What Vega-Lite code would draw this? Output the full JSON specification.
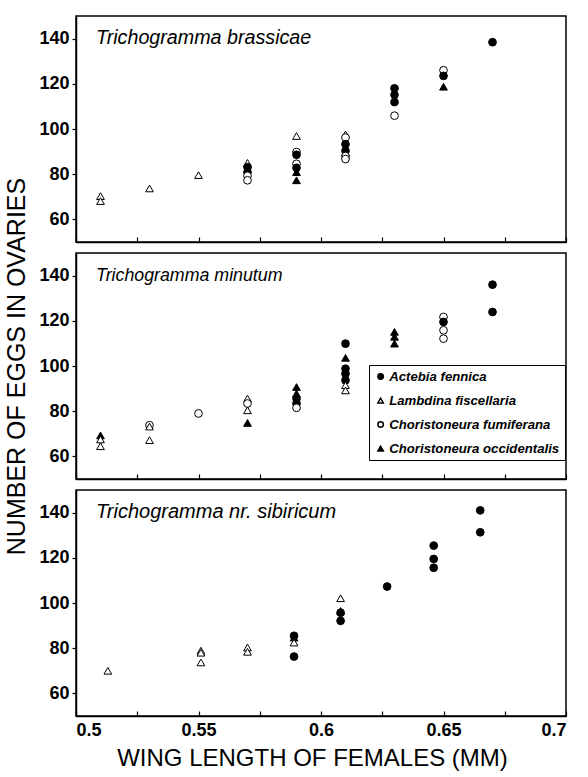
{
  "$schema": "https://vega.github.io/schema/vega-lite/v6.json",
  "padding": {"top": 15, "left": 4, "right": 5, "bottom": 5},
  "autosize": {"type": "pad"},
  "bounds": "flush",
  "spacing": 11,
  "datasets": {
    "eggs": [
      {"panel": "brassicae", "host": "Lambdina fiscellaria", "wing": 0.51, "eggs": 70.3},
      {"panel": "brassicae", "host": "Lambdina fiscellaria", "wing": 0.51, "eggs": 68.1},
      {"panel": "brassicae", "host": "Lambdina fiscellaria", "wing": 0.53, "eggs": 73.7},
      {"panel": "brassicae", "host": "Lambdina fiscellaria", "wing": 0.55, "eggs": 79.6},
      {"panel": "brassicae", "host": "Lambdina fiscellaria", "wing": 0.57, "eggs": 85.0},
      {"panel": "brassicae", "host": "Actebia fennica", "wing": 0.57, "eggs": 83.1},
      {"panel": "brassicae", "host": "Actebia fennica", "wing": 0.57, "eggs": 80.9},
      {"panel": "brassicae", "host": "Choristoneura fumiferana", "wing": 0.57, "eggs": 79.3},
      {"panel": "brassicae", "host": "Choristoneura fumiferana", "wing": 0.57, "eggs": 77.3},
      {"panel": "brassicae", "host": "Lambdina fiscellaria", "wing": 0.59, "eggs": 96.9},
      {"panel": "brassicae", "host": "Choristoneura fumiferana", "wing": 0.59, "eggs": 89.8},
      {"panel": "brassicae", "host": "Actebia fennica", "wing": 0.59, "eggs": 88.6},
      {"panel": "brassicae", "host": "Choristoneura fumiferana", "wing": 0.59, "eggs": 84.6},
      {"panel": "brassicae", "host": "Actebia fennica", "wing": 0.59, "eggs": 82.8},
      {"panel": "brassicae", "host": "Choristoneura occidentalis", "wing": 0.59, "eggs": 80.9},
      {"panel": "brassicae", "host": "Choristoneura occidentalis", "wing": 0.59, "eggs": 77.3},
      {"panel": "brassicae", "host": "Lambdina fiscellaria", "wing": 0.61, "eggs": 97.6},
      {"panel": "brassicae", "host": "Choristoneura fumiferana", "wing": 0.61, "eggs": 96.2},
      {"panel": "brassicae", "host": "Actebia fennica", "wing": 0.61, "eggs": 93.3},
      {"panel": "brassicae", "host": "Actebia fennica", "wing": 0.61, "eggs": 90.4},
      {"panel": "brassicae", "host": "Choristoneura occidentalis", "wing": 0.61, "eggs": 89.7},
      {"panel": "brassicae", "host": "Choristoneura fumiferana", "wing": 0.61, "eggs": 88.0},
      {"panel": "brassicae", "host": "Choristoneura fumiferana", "wing": 0.61, "eggs": 86.7},
      {"panel": "brassicae", "host": "Actebia fennica", "wing": 0.63, "eggs": 118.0},
      {"panel": "brassicae", "host": "Actebia fennica", "wing": 0.63, "eggs": 115.1},
      {"panel": "brassicae", "host": "Actebia fennica", "wing": 0.63, "eggs": 111.9},
      {"panel": "brassicae", "host": "Choristoneura fumiferana", "wing": 0.63, "eggs": 105.9},
      {"panel": "brassicae", "host": "Choristoneura fumiferana", "wing": 0.65, "eggs": 126.0},
      {"panel": "brassicae", "host": "Actebia fennica", "wing": 0.65, "eggs": 123.5},
      {"panel": "brassicae", "host": "Choristoneura occidentalis", "wing": 0.65, "eggs": 118.7},
      {"panel": "brassicae", "host": "Actebia fennica", "wing": 0.67, "eggs": 138.4},

      {"panel": "minutum", "host": "Choristoneura occidentalis", "wing": 0.51, "eggs": 69.3},
      {"panel": "minutum", "host": "Lambdina fiscellaria", "wing": 0.51, "eggs": 67.5},
      {"panel": "minutum", "host": "Lambdina fiscellaria", "wing": 0.51, "eggs": 64.5},
      {"panel": "minutum", "host": "Choristoneura fumiferana", "wing": 0.53, "eggs": 73.8},
      {"panel": "minutum", "host": "Lambdina fiscellaria", "wing": 0.53, "eggs": 73.2},
      {"panel": "minutum", "host": "Lambdina fiscellaria", "wing": 0.53, "eggs": 67.2},
      {"panel": "minutum", "host": "Choristoneura fumiferana", "wing": 0.55, "eggs": 79.0},
      {"panel": "minutum", "host": "Lambdina fiscellaria", "wing": 0.57, "eggs": 85.6},
      {"panel": "minutum", "host": "Choristoneura fumiferana", "wing": 0.57, "eggs": 83.4},
      {"panel": "minutum", "host": "Lambdina fiscellaria", "wing": 0.57, "eggs": 80.4},
      {"panel": "minutum", "host": "Choristoneura occidentalis", "wing": 0.57, "eggs": 74.8},
      {"panel": "minutum", "host": "Choristoneura occidentalis", "wing": 0.59, "eggs": 90.7},
      {"panel": "minutum", "host": "Choristoneura occidentalis", "wing": 0.59, "eggs": 87.8},
      {"panel": "minutum", "host": "Actebia fennica", "wing": 0.59, "eggs": 85.6},
      {"panel": "minutum", "host": "Actebia fennica", "wing": 0.59, "eggs": 83.4},
      {"panel": "minutum", "host": "Choristoneura fumiferana", "wing": 0.59, "eggs": 81.5},
      {"panel": "minutum", "host": "Actebia fennica", "wing": 0.61, "eggs": 109.9},
      {"panel": "minutum", "host": "Choristoneura occidentalis", "wing": 0.61, "eggs": 103.6},
      {"panel": "minutum", "host": "Actebia fennica", "wing": 0.61, "eggs": 98.8},
      {"panel": "minutum", "host": "Actebia fennica", "wing": 0.61, "eggs": 96.6},
      {"panel": "minutum", "host": "Actebia fennica", "wing": 0.61, "eggs": 93.7},
      {"panel": "minutum", "host": "Lambdina fiscellaria", "wing": 0.61, "eggs": 91.5},
      {"panel": "minutum", "host": "Lambdina fiscellaria", "wing": 0.61, "eggs": 89.2},
      {"panel": "minutum", "host": "Choristoneura occidentalis", "wing": 0.63, "eggs": 115.1},
      {"panel": "minutum", "host": "Choristoneura occidentalis", "wing": 0.63, "eggs": 112.9},
      {"panel": "minutum", "host": "Choristoneura occidentalis", "wing": 0.63, "eggs": 109.9},
      {"panel": "minutum", "host": "Choristoneura fumiferana", "wing": 0.65, "eggs": 121.7},
      {"panel": "minutum", "host": "Actebia fennica", "wing": 0.65, "eggs": 119.5},
      {"panel": "minutum", "host": "Choristoneura fumiferana", "wing": 0.65, "eggs": 115.8},
      {"panel": "minutum", "host": "Choristoneura fumiferana", "wing": 0.65, "eggs": 112.1},
      {"panel": "minutum", "host": "Actebia fennica", "wing": 0.67, "eggs": 136.0},
      {"panel": "minutum", "host": "Actebia fennica", "wing": 0.67, "eggs": 123.9},

      {"panel": "sibiricum", "host": "Lambdina fiscellaria", "wing": 0.513, "eggs": 70.0},
      {"panel": "sibiricum", "host": "Lambdina fiscellaria", "wing": 0.551, "eggs": 78.9},
      {"panel": "sibiricum", "host": "Lambdina fiscellaria", "wing": 0.551, "eggs": 78.0},
      {"panel": "sibiricum", "host": "Lambdina fiscellaria", "wing": 0.551, "eggs": 73.7},
      {"panel": "sibiricum", "host": "Lambdina fiscellaria", "wing": 0.570, "eggs": 80.3},
      {"panel": "sibiricum", "host": "Lambdina fiscellaria", "wing": 0.570, "eggs": 78.4},
      {"panel": "sibiricum", "host": "Actebia fennica", "wing": 0.589, "eggs": 85.5},
      {"panel": "sibiricum", "host": "Choristoneura occidentalis", "wing": 0.589, "eggs": 84.7},
      {"panel": "sibiricum", "host": "Lambdina fiscellaria", "wing": 0.589, "eggs": 82.5},
      {"panel": "sibiricum", "host": "Actebia fennica", "wing": 0.589, "eggs": 76.3},
      {"panel": "sibiricum", "host": "Lambdina fiscellaria", "wing": 0.608, "eggs": 102.1},
      {"panel": "sibiricum", "host": "Choristoneura occidentalis", "wing": 0.608, "eggs": 96.5},
      {"panel": "sibiricum", "host": "Actebia fennica", "wing": 0.608, "eggs": 95.7},
      {"panel": "sibiricum", "host": "Actebia fennica", "wing": 0.608, "eggs": 92.1},
      {"panel": "sibiricum", "host": "Actebia fennica", "wing": 0.627, "eggs": 107.3},
      {"panel": "sibiricum", "host": "Actebia fennica", "wing": 0.646, "eggs": 125.4},
      {"panel": "sibiricum", "host": "Actebia fennica", "wing": 0.646, "eggs": 119.5},
      {"panel": "sibiricum", "host": "Actebia fennica", "wing": 0.646, "eggs": 115.6},
      {"panel": "sibiricum", "host": "Actebia fennica", "wing": 0.665, "eggs": 141.0},
      {"panel": "sibiricum", "host": "Actebia fennica", "wing": 0.665, "eggs": 131.3}
    ],
    "titles": [
      {"panel": "brassicae", "label": "Trichogramma brassicae"},
      {"panel": "minutum", "label": "Trichogramma minutum"},
      {"panel": "sibiricum", "label": "Trichogramma nr. sibiricum"}
    ]
  },
  "config": {
    "font": "Liberation Sans",
    "view": {"stroke": "black", "strokeWidth": 1.5},
    "axis": {
      "grid": false,
      "domainColor": "black",
      "domainWidth": 1.5,
      "tickColor": "black",
      "tickWidth": 1.2,
      "labelFont": "Liberation Sans",
      "labelFontWeight": "bold",
      "labelFontSize": 18,
      "labelColor": "black",
      "titleFont": "Liberation Sans",
      "titleFontWeight": "normal",
      "titleFontSize": 24,
      "titleColor": "black"
    }
  },
  "resolve": {
    "scale": {"shape": "independent", "fill": "independent"},
    "legend": {"shape": "independent", "fill": "independent"}
  },
  "vconcat": [
    {
      "width": 490,
      "height": 226,
      "layer": [
        {
          "data": {"name": "eggs"},
          "transform": [{"filter": "datum.panel == 'brassicae'"}],
          "mark": {"type": "point", "filled": true, "stroke": "black", "strokeWidth": 1, "size": 60, "opacity": 1},
          "encoding": {
            "x": {"field": "wing", "type": "quantitative", "scale": {"domain": [0.5, 0.7], "nice": false, "zero": false},
                  "axis": {"values": [0.5, 0.525, 0.55, 0.575, 0.6, 0.625, 0.65, 0.675, 0.7], "labels": false, "tickSize": -5, "title": null}},
            "y": {"field": "eggs", "type": "quantitative", "scale": {"domain": [50, 150], "nice": false, "zero": false},
                  "axis": {"values": [60, 80, 100, 120, 140], "tickSize": 4, "labelPadding": 3, "title": null}},
            "shape": {"field": "host", "type": "nominal",
                      "scale": {"domain": ["Actebia fennica", "Lambdina fiscellaria", "Choristoneura fumiferana", "Choristoneura occidentalis"], "range": ["circle", "triangle-up", "circle", "triangle-up"]},
                      "legend": null},
            "fill": {"field": "host", "type": "nominal",
                     "scale": {"domain": ["Actebia fennica", "Lambdina fiscellaria", "Choristoneura fumiferana", "Choristoneura occidentalis"], "range": ["black", "white", "white", "black"]},
                     "legend": null}
          }
        },
        {
          "data": {"name": "titles"},
          "transform": [{"filter": "datum.panel == 'brassicae'"}],
          "mark": {"type": "text", "align": "left", "baseline": "alphabetic", "fontStyle": "italic", "fontWeight": "normal", "fontSize": 19.7, "font": "Liberation Sans", "fill": "black"},
          "encoding": {"x": {"datum": 0.5082}, "y": {"datum": 137.4}, "text": {"field": "label", "type": "nominal"}}
        }
      ]
    },
    {
      "width": 490,
      "height": 226,
      "layer": [
        {
          "data": {"name": "eggs"},
          "transform": [{"filter": "datum.panel == 'minutum'"}],
          "mark": {"type": "point", "filled": true, "stroke": "black", "strokeWidth": 1, "size": 60, "opacity": 1},
          "encoding": {
            "x": {"field": "wing", "type": "quantitative", "scale": {"domain": [0.5, 0.7], "nice": false, "zero": false},
                  "axis": {"values": [0.5, 0.525, 0.55, 0.575, 0.6, 0.625, 0.65, 0.675, 0.7], "labels": false, "tickSize": -5, "title": null}},
            "y": {"field": "eggs", "type": "quantitative", "scale": {"domain": [50, 150], "nice": false, "zero": false},
                  "axis": {"values": [60, 80, 100, 120, 140], "tickSize": 4, "labelPadding": 3, "title": "NUMBER OF EGGS IN OVARIES", "titlePadding": 9, "titleFontSize": 25}},
            "shape": {"field": "host", "type": "nominal",
                      "scale": {"domain": ["Actebia fennica", "Lambdina fiscellaria", "Choristoneura fumiferana", "Choristoneura occidentalis"], "range": ["circle", "triangle-up", "circle", "triangle-up"]},
                      "legend": {"orient": "none", "legendX": 293, "legendY": 112, "title": null, "strokeColor": "black", "padding": 5, "labelFont": "Liberation Sans", "labelFontStyle": "italic", "labelFontWeight": "bold", "labelFontSize": 13.2, "labelColor": "black", "labelOffset": 2, "labelLimit": 300, "rowPadding": 10, "symbolSize": 30,
                                 "encode": {"symbols": {"update": {"stroke": {"value": "black"}, "strokeWidth": {"value": 1}}}}}},
            "fill": {"field": "host", "type": "nominal",
                     "scale": {"domain": ["Actebia fennica", "Lambdina fiscellaria", "Choristoneura fumiferana", "Choristoneura occidentalis"], "range": ["black", "white", "white", "black"]},
                     "legend": {"orient": "none", "legendX": 293, "legendY": 112, "title": null, "strokeColor": "black", "padding": 5, "labelFont": "Liberation Sans", "labelFontStyle": "italic", "labelFontWeight": "bold", "labelFontSize": 13.2, "labelColor": "black", "labelOffset": 2, "labelLimit": 300, "rowPadding": 10, "symbolSize": 30,
                                "encode": {"symbols": {"update": {"stroke": {"value": "black"}, "strokeWidth": {"value": 1}}}}}}
          }
        },
        {
          "data": {"name": "titles"},
          "transform": [{"filter": "datum.panel == 'minutum'"}],
          "mark": {"type": "text", "align": "left", "baseline": "alphabetic", "fontStyle": "italic", "fontWeight": "normal", "fontSize": 17.8, "font": "Liberation Sans", "fill": "black"},
          "encoding": {"x": {"datum": 0.5082}, "y": {"datum": 137.4}, "text": {"field": "label", "type": "nominal"}}
        }
      ]
    },
    {
      "width": 490,
      "height": 226,
      "layer": [
        {
          "data": {"name": "eggs"},
          "transform": [{"filter": "datum.panel == 'sibiricum'"}],
          "mark": {"type": "point", "filled": true, "stroke": "black", "strokeWidth": 1, "size": 60, "opacity": 1},
          "encoding": {
            "x": {"field": "wing", "type": "quantitative", "scale": {"domain": [0.5, 0.7], "nice": false, "zero": false},
                  "axis": {"values": [0.5, 0.525, 0.55, 0.575, 0.6, 0.625, 0.65, 0.675, 0.7], "tickSize": -5, "labelPadding": 10,
                           "labelExpr": "round(datum.value * 1000) % 50 == 0 ? format(datum.value, '~g') : ''",
                           "title": "WING LENGTH OF FEMALES (MM)", "titlePadding": 7, "titleX": 236}},
            "y": {"field": "eggs", "type": "quantitative", "scale": {"domain": [50, 150], "nice": false, "zero": false},
                  "axis": {"values": [60, 80, 100, 120, 140], "tickSize": 4, "labelPadding": 3, "title": null}},
            "shape": {"field": "host", "type": "nominal",
                      "scale": {"domain": ["Actebia fennica", "Lambdina fiscellaria", "Choristoneura fumiferana", "Choristoneura occidentalis"], "range": ["circle", "triangle-up", "circle", "triangle-up"]},
                      "legend": null},
            "fill": {"field": "host", "type": "nominal",
                     "scale": {"domain": ["Actebia fennica", "Lambdina fiscellaria", "Choristoneura fumiferana", "Choristoneura occidentalis"], "range": ["black", "white", "white", "black"]},
                     "legend": null}
          }
        },
        {
          "data": {"name": "titles"},
          "transform": [{"filter": "datum.panel == 'sibiricum'"}],
          "mark": {"type": "text", "align": "left", "baseline": "alphabetic", "fontStyle": "italic", "fontWeight": "normal", "fontSize": 20, "font": "Liberation Sans", "fill": "black"},
          "encoding": {"x": {"datum": 0.5082}, "y": {"datum": 137.4}, "text": {"field": "label", "type": "nominal"}}
        }
      ]
    }
  ]
}
